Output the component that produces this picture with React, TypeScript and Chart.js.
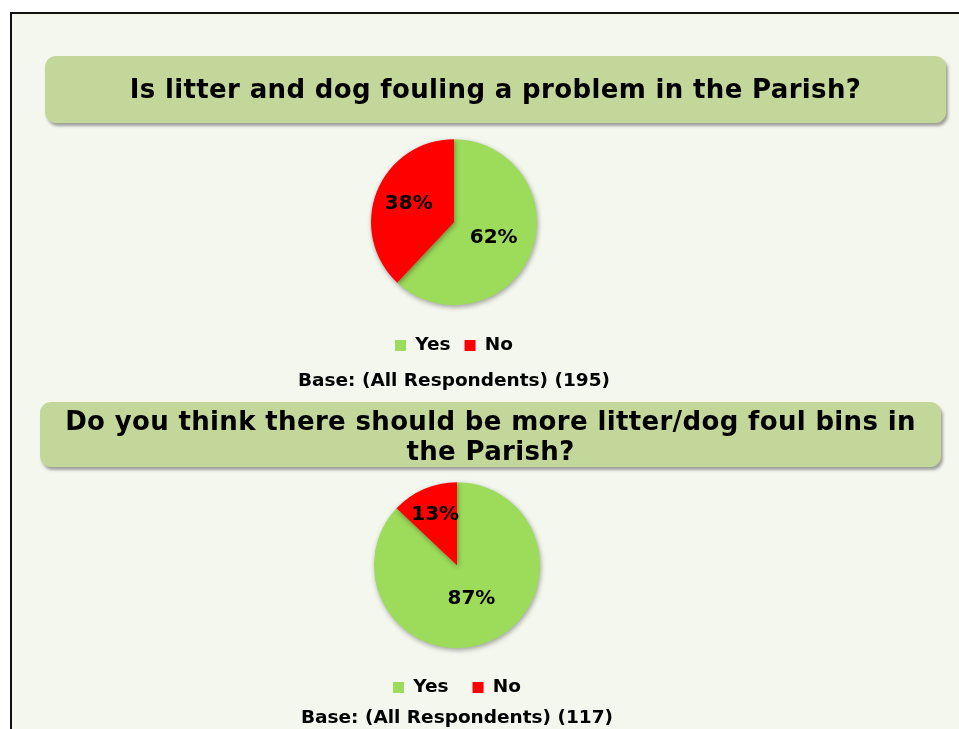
import React, { useEffect, useRef } from "react";
import { Chart, registerables } from "chart.js";

Chart.register(...registerables);

const answerLabels = ["Yes", "No"];
const q1Title = "Is litter and dog fouling a problem in the Parish?";
const q1Values = [62, 38];
const q1Base = "Base: (All Respondents) (195)";
const q2TitleLine1 = "Do you think there should be more litter/dog foul bins in";
const q2TitleLine2 = "the Parish?";
const q2Values = [87, 13];
const q2Base = "Base: (All Respondents) (117)";
const sliceColors = ["#9ddb5a", "#ff0000"];

const FONT = "'DejaVu Sans', Verdana, sans-serif";

const pctLabelPlugin = {
  id: "pctLabels",
  afterDatasetsDraw(chart: any) {
    const ctx = chart.ctx;
    const meta = chart.getDatasetMeta(0);
    const data = chart.data.datasets[0].data as number[];
    const total = data.reduce((a, b) => a + b, 0);
    ctx.save();
    ctx.font = `bold 20px ${FONT}`;
    ctx.fillStyle = "#000";
    ctx.textAlign = "center";
    ctx.textBaseline = "middle";
    meta.data.forEach((arc: any, i: number) => {
      const p = arc.getProps(["x", "y", "startAngle", "endAngle", "outerRadius"], true);
      const mid = (p.startAngle + p.endAngle) / 2;
      const share = data[i] / total;
      const r = p.outerRadius * (0.4 + 0.3 * (1 - share));
      ctx.fillText(`${data[i]}%`, p.x + Math.cos(mid) * r, p.y + Math.sin(mid) * r);
    });
    ctx.restore();
  },
};

const shadowPlugin = {
  id: "pieShadow",
  beforeDatasetsDraw(chart: any) {
    const ctx = chart.ctx;
    ctx.save();
    ctx.shadowColor = "rgba(0,0,0,0.35)";
    ctx.shadowBlur = 5;
    ctx.shadowOffsetX = 1;
    ctx.shadowOffsetY = 2;
  },
  afterDatasetsDraw(chart: any) {
    chart.ctx.restore();
  },
};

function PieBlock(props: {
  values: number[];
  base: string;
  left: number;
  top: number;
  width: number;
  height: number;
  padTop: number;
  legendGap: number;
  titlePad: { top: number; bottom: number };
}) {
  const ref = useRef<HTMLCanvasElement>(null);
  useEffect(() => {
    const chart = new Chart(ref.current!, {
      type: "pie",
      data: {
        labels: answerLabels,
        datasets: [
          {
            data: props.values,
            backgroundColor: sliceColors,
            borderWidth: 0,
            radius: 83,
          } as any,
        ],
      },
      options: {
        animation: false,
        responsive: false,
        maintainAspectRatio: false,
        layout: { padding: { top: props.padTop, bottom: 0, left: 0, right: 0 } },
        plugins: {
          legend: {
            display: true,
            position: "bottom",
            labels: {
              boxWidth: 11,
              boxHeight: 11,
              padding: props.legendGap,
              color: "#000",
              font: { family: FONT, size: 18.5, weight: "bold" },
            },
          },
          title: {
            display: true,
            position: "bottom",
            text: props.base,
            color: "#000",
            font: { family: FONT, size: 18.5, weight: "bold" },
            padding: props.titlePad,
          },
          tooltip: { enabled: false },
        },
      },
      plugins: [shadowPlugin, pctLabelPlugin],
    });
    return () => chart.destroy();
  }, []);
  return (
    <canvas
      ref={ref}
      width={props.width}
      height={props.height}
      style={{
        position: "absolute",
        left: props.left,
        top: props.top,
        width: props.width,
        height: props.height,
      }}
    />
  );
}

const titleBoxStyle: React.CSSProperties = {
  position: "absolute",
  background: "#c4d79b",
  borderRadius: 11,
  boxShadow: "2px 3px 3px rgba(0,0,0,0.35)",
  fontFamily: FONT,
  fontWeight: "bold",
  fontSize: 26,
  letterSpacing: "0.35px",
  color: "#000",
  textAlign: "center",
  boxSizing: "border-box",
  whiteSpace: "nowrap",
};

export default function App() {
  return (
    <div
      style={{
        position: "absolute",
        left: 0,
        top: 0,
        width: 959,
        height: 729,
        overflow: "hidden",
        background: "#fff",
      }}
    >
      <div
        style={{
          position: "absolute",
          left: 10,
          top: 12,
          width: 970,
          height: 740,
          border: "2px solid #111",
          background: "#f4f7ee",
        }}
      />
      <PieBlock
        values={q1Values}
        base={q1Base}
        left={254}
        top={112}
        width={400}
        height={285}
        padTop={10}
        legendGap={14}
        titlePad={{ top: 5, bottom: 5 }}
      />
      <PieBlock
        values={q2Values}
        base={q2Base}
        left={257}
        top={455}
        width={400}
        height={274}
        padTop={21}
        legendGap={24}
        titlePad={{ top: 0, bottom: 0 }}
      />
      <div
        style={{
          ...titleBoxStyle,
          left: 45,
          top: 56,
          width: 901,
          height: 67,
          lineHeight: "67px",
        }}
      >
        {q1Title}
      </div>
      <div
        style={{
          ...titleBoxStyle,
          left: 40,
          top: 402,
          width: 901,
          height: 65,
          lineHeight: "30px",
          paddingTop: 4,
        }}
      >
        {q2TitleLine1}
        <br />
        {q2TitleLine2}
      </div>
    </div>
  );
}
